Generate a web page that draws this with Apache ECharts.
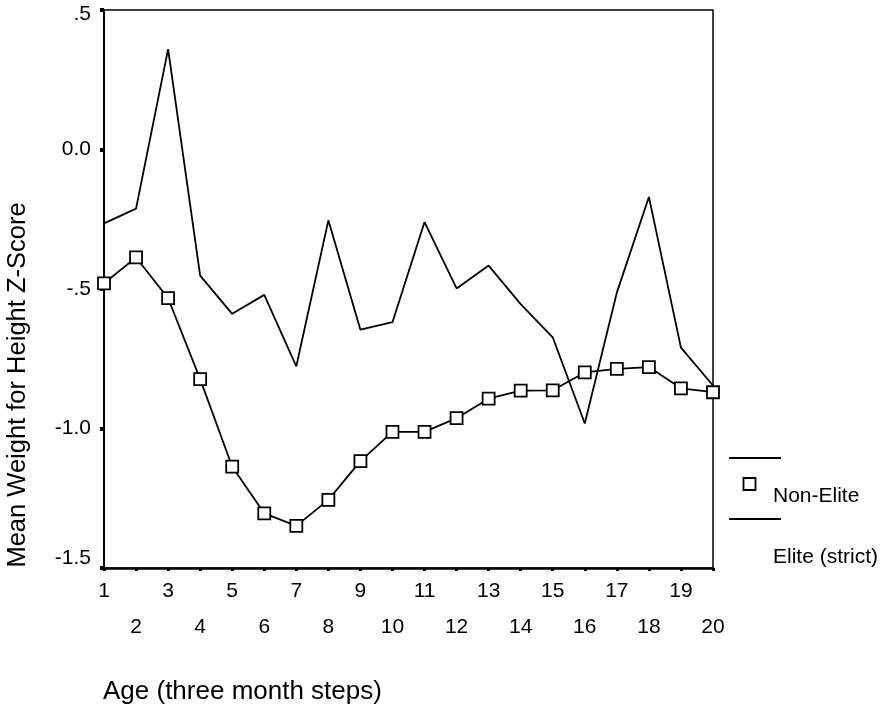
<!DOCTYPE html>
<html>
<head>
<meta charset="utf-8">
<script src="https://cdn.jsdelivr.net/npm/echarts@6/dist/echarts.min.js"></script>
<style>
html,body{margin:0;padding:0;background:#fff;}
#chart{width:885px;height:713px;}
</style>
</head>
<body>
<div id="chart"></div>
<script>
var categories = ['1','2','3','4','5','6','7','8','9','10','11','12','13','14','15','16','17','18','19','20'];
var nonElite = [-0.48,-0.387,-0.533,-0.823,-1.137,-1.304,-1.349,-1.256,-1.117,-1.012,-1.012,-0.963,-0.893,-0.864,-0.863,-0.799,-0.786,-0.780,-0.856,-0.870];
var eliteStrict = [-0.265,-0.212,0.36,-0.452,-0.589,-0.521,-0.777,-0.254,-0.646,-0.619,-0.26,-0.498,-0.416,-0.554,-0.673,-0.982,-0.513,-0.170,-0.71,-0.846];
var yTickLabels = {'0.5':'.5','0':'0.0','-0.5':'-.5','-1':'-1.0','-1.5':'-1.5'};
var yTitle = 'Mean Weight for Height Z-Score';
var xTitle = 'Age (three month steps)';
var legendNames = ['Non-Elite','Elite (strict)'];

var FONT = 'Liberation Sans, Arial, sans-serif';
var chart = echarts.init(document.getElementById('chart'), null, {renderer:'canvas'});
chart.setOption({
  animation:false,
  backgroundColor:'#fff',
  grid:{left:104,top:10,right:172,bottom:145,show:true,borderColor:'#000',borderWidth:1.5,backgroundColor:'transparent'},
  xAxis:{
    type:'category',data:categories,boundaryGap:false,
    axisLine:{onZero:false,lineStyle:{color:'#000',width:2.5}},
    axisTick:{show:true,alignWithLabel:true,length:3,lineStyle:{color:'#000',width:3}},
    axisLabel:{
      interval:0,color:'#000',fontFamily:FONT,fontSize:21,margin:5,lineHeight:36,verticalAlign:'top',
      formatter:function(v,i){return (i%2===1)?'\n'+v:v;}
    },
    splitLine:{show:false}
  },
  yAxis:{
    type:'value',min:-1.5,max:0.5,interval:0.5,
    axisLine:{show:true,lineStyle:{color:'#000',width:2}},
    axisTick:{show:true,length:4,lineStyle:{color:'#000',width:4}},
    axisLabel:{color:'#000',fontFamily:FONT,fontSize:21,margin:13,
      formatter:function(v){
        var k=String(Math.round(v*10)/10);
        var t=yTickLabels[k]!==undefined?yTickLabels[k]:k;
        if(k==='0.5') return '{top|'+t+'}';
        if(k==='-1.5') return '{bot|'+t+'}';
        return t;
      },
      rich:{
        top:{fontFamily:FONT,fontSize:21,color:'#000',padding:[9,0,0,0]},
        bot:{fontFamily:FONT,fontSize:21,color:'#000',padding:[0,0,20,0]}
      }
    },
    splitLine:{show:false}
  },
  series:[
    {name:legendNames[1],type:'line',data:eliteStrict,showSymbol:false,symbol:'none',
     lineStyle:{color:'#000',width:1.8},z:2},
    {name:legendNames[0],type:'line',data:nonElite,symbol:'rect',symbolSize:12,
     itemStyle:{color:'#fff',borderColor:'#000',borderWidth:1.8},
     lineStyle:{color:'#000',width:1.8},z:3}
  ],
  graphic:[
    {type:'text',x:103,y:692,style:{text:xTitle,font:'26px '+FONT,fill:'#000',verticalAlign:'middle'}},
    {type:'text',x:18,y:385,rotation:Math.PI/2,style:{text:yTitle,font:'25.5px '+FONT,fill:'#000',align:'center',verticalAlign:'middle'}},
    {type:'line',shape:{x1:729,y1:458,x2:781,y2:458},style:{stroke:'#000',lineWidth:1.8}},
    {type:'rect',shape:{x:743.5,y:478,width:12,height:12},style:{fill:'#fff',stroke:'#000',lineWidth:1.8}},
    {type:'text',x:773,y:496,style:{text:legendNames[0],font:'21px '+FONT,fill:'#000',verticalAlign:'middle'}},
    {type:'line',shape:{x1:729,y1:519,x2:781,y2:519},style:{stroke:'#000',lineWidth:1.8}},
    {type:'text',x:773,y:557,style:{text:legendNames[1],font:'21px '+FONT,fill:'#000',verticalAlign:'middle'}}
  ]
});
</script>
</body>
</html>
